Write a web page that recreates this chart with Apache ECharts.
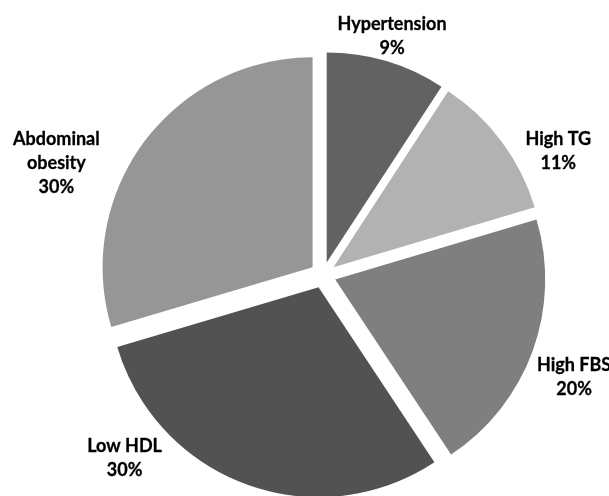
<!DOCTYPE html>
<html>
<head>
<meta charset="utf-8">
<script src="https://cdn.jsdelivr.net/npm/echarts@6/dist/echarts.min.js"></script>
<style>
html,body{margin:0;padding:0;background:#fff;}
#c{width:609px;height:496px;}
</style>
</head>
<body>
<div id="c"></div>
<script>
// Data (shares; labels show them rounded)
var categories = ['Hypertension', 'High TG', 'High FBS', 'Low HDL', 'Abdominal obesity'];
var labelNames = ['Hypertension', 'High TG', 'High FBS', 'Low HDL', 'Abdominal\nobesity'];
var values = [9.2, 11.2, 20.3, 29.7, 29.6];

// Styles
var sliceColors = ['#626262', '#b2b2b2', '#7f7f7f', '#525252', '#969696'];
var labelAngles = [16.1, 62.2, 112.1, 227.3, 292.7];   // degrees clockwise from top
var labelRadii = [249, 266, 271, 270, 289];

var cx = 323, cy = 275;

var chart = echarts.init(document.getElementById('c'), null, {renderer: 'canvas'});

var sliceData = categories.map(function (c, i) {
  return {
    name: c,
    value: values[i],
    selected: true,
    itemStyle: {color: sliceColors[i]}
  };
});

var labelData = categories.map(function (c, i) {
  return {
    name: c,
    value: values[i],
    label: {formatter: labelNames[i] + '\n{d}%'}
  };
});

chart.setOption({
  animation: false,
  series: [{
    type: 'pie',
    center: [cx, cy],
    radius: 210,
    startAngle: 90,
    clockwise: true,
    selectedMode: 'multiple',
    selectedOffset: 13,
    emphasis: {disabled: true},
    itemStyle: {borderWidth: 0},
    label: {show: false},
    labelLine: {show: false},
    data: sliceData
  }, {
    type: 'pie',
    center: [cx, cy],
    radius: 210,
    startAngle: 90,
    clockwise: true,
    silent: true,
    selectedMode: false,
    percentPrecision: 0,
    avoidLabelOverlap: false,
    emphasis: {disabled: true},
    itemStyle: {color: 'rgba(0,0,0,0)', borderWidth: 0},
    label: {
      show: true,
      position: 'outside',
      fontFamily: 'Lato',
      fontWeight: 'bold',
      fontSize: 18,
      lineHeight: 24,
      color: '#000',
      textBorderColor: '#000',
      textBorderWidth: 0.3,
      align: 'center'
    },
    labelLine: {show: false},
    labelLayout: function (p) {
      var i = p.dataIndex;
      var a = labelAngles[i] * Math.PI / 180;
      return {
        x: cx + labelRadii[i] * Math.sin(a),
        y: cy - labelRadii[i] * Math.cos(a),
        align: 'center',
        verticalAlign: 'middle'
      };
    },
    data: labelData
  }]
});
</script>
</body>
</html>
